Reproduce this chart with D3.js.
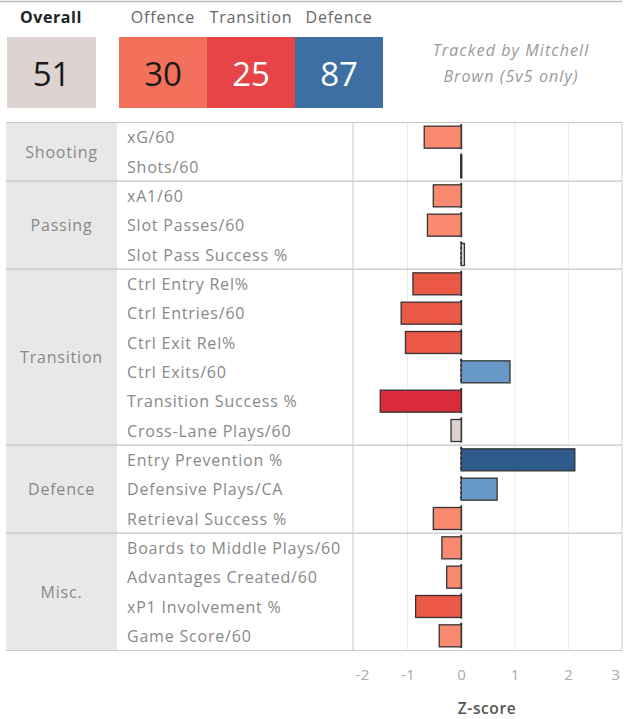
<!DOCTYPE html>
<html><head><meta charset="utf-8">
<script src="https://cdn.jsdelivr.net/npm/d3@7"></script>
<style>
html,body{margin:0;padding:0;background:#fff;}
svg{display:block;font-family:"Open Sans",sans-serif;}
</style></head>
<body><svg id="c" width="628" height="719"></svg>
<script>
// ---- data ----
const groups = ["Shooting","Passing","Transition","Defence","Misc."];
const groupSizes = [2,3,6,3,4];
const metrics = ["xG/60","Shots/60","xA1/60","Slot Passes/60","Slot Pass Success %",
  "Ctrl Entry Rel%","Ctrl Entries/60","Ctrl Exit Rel%","Ctrl Exits/60","Transition Success %","Cross-Lane Plays/60",
  "Entry Prevention %","Defensive Plays/CA","Retrieval Success %",
  "Boards to Middle Plays/60","Advantages Created/60","xP1 Involvement %","Game Score/60"];
const zscores = [-0.69,-0.01,-0.52,-0.63,0.06,
  -0.90,-1.12,-1.04,0.91,-1.51,-0.19,
  2.12,0.67,-0.52,
  -0.36,-0.27,-0.85,-0.41];
const summaryLabels = ["Offence","Transition","Defence"];
const summaryValues = [30,25,87];
const overallValue = 51;
const xTicks = [-2,-1,0,1,2,3];

// ---- layout ----
const svg = d3.select("#c");
const L = {left:6, labelX:117, plotL:353, plotR:622, top:122.5, bottom:650.5};
const x = d3.scaleLinear().domain([-2,3]).range([L.plotL+1, L.plotR]);
const y = d3.scaleBand().domain(metrics).range([L.top, L.bottom]).paddingInner(0.25).paddingOuter(0.125);
const rowH = (L.bottom-L.top)/metrics.length;
const color = d3.scaleThreshold().domain([-1.25,-0.75,-0.25,0.25,1.25])
  .range(["#d92b3a","#ec5846","#f98a70","#dcd3d0","#6798c7","#2e5b8b"]);
const LS = "0.8px";

// header
svg.append("line").attr("x1",0).attr("x2",622).attr("y1",1.5).attr("y2",1.5).attr("stroke","#bbb").attr("stroke-width",1.5);
svg.append("text").attr("x",51).attr("y",23).attr("text-anchor","middle").attr("font-size",16).attr("letter-spacing","0.6px").attr("font-weight",700).attr("fill","#222").text("Overall");
svg.append("rect").attr("x",7).attr("y",37).attr("width",89).attr("height",71).attr("fill","#ddd4d1");
svg.append("text").attr("x",51.5).attr("y",86).attr("text-anchor","middle").attr("font-size",33).attr("fill","#1a1a1a").text(overallValue);
const sumColors = ["#f3705a","#e64446","#3e6fa3"];
const sumText = ["#1a1a1a","#fff","#fff"];
const hx = d3.scaleBand().domain(summaryLabels).range([119,383]);
summaryLabels.forEach((s,i)=>{
  svg.append("rect").attr("x",hx(s)).attr("y",37).attr("width",hx.bandwidth()).attr("height",71).attr("fill",sumColors[i]);
  svg.append("text").attr("x",hx(s)+hx.bandwidth()/2).attr("y",86).attr("text-anchor","middle").attr("font-size",33).attr("fill",sumText[i]).text(summaryValues[i]);
  svg.append("text").attr("x",hx(s)+hx.bandwidth()/2).attr("y",23).attr("text-anchor","middle").attr("font-size",16).attr("letter-spacing",LS).attr("fill","#666").text(s);
});
svg.append("text").attr("x",511).attr("y",56).attr("text-anchor","middle").attr("font-size",16).attr("letter-spacing","1.1px").attr("font-style","italic").attr("fill","#999").text("Tracked by Mitchell");
svg.append("text").attr("x",511).attr("y",82).attr("text-anchor","middle").attr("font-size",16).attr("letter-spacing","1.1px").attr("font-style","italic").attr("fill","#999").text("Brown (5v5 only)");

// group column background
svg.append("rect").attr("x",L.left).attr("y",L.top).attr("width",L.labelX-L.left).attr("height",L.bottom-L.top).attr("fill","#e8e8e8");

// vertical gridlines
svg.selectAll(".vg").data(xTicks.filter(t=>t!==-2 && t!==3)).join("line")
  .attr("x1",d=>x(d)).attr("x2",d=>x(d)).attr("y1",L.top).attr("y2",L.bottom)
  .attr("stroke","#ececec").attr("stroke-width",1);
// plot borders
svg.append("line").attr("x1",L.plotL).attr("x2",L.plotL).attr("y1",L.top).attr("y2",L.bottom).attr("stroke","#c8c8c8");
svg.append("line").attr("x1",L.plotR).attr("x2",L.plotR).attr("y1",L.top).attr("y2",L.bottom).attr("stroke","#d0d0d0");

// group separators
let cum = 0;
const bounds = [L.top];
groupSizes.forEach(n=>{cum+=n; bounds.push(L.top+cum*rowH);});
svg.selectAll(".hs").data(bounds).join("line")
  .attr("x1",L.left).attr("x2",L.plotR).attr("y1",d=>d).attr("y2",d=>d)
  .attr("stroke","#c6c6c6").attr("stroke-width",1.2);

// group labels
groups.forEach((g,i)=>{
  svg.append("text").attr("x",(L.left+L.labelX)/2).attr("y",(bounds[i]+bounds[i+1])/2+6)
    .attr("text-anchor","middle").attr("font-size",16).attr("letter-spacing",LS).attr("fill","#888").text(g);
});
// metric labels
svg.selectAll(".ml").data(metrics).join("text")
  .attr("x",127).attr("y",d=>y(d)+y.bandwidth()/2+6)
  .attr("font-size",16).attr("letter-spacing",LS).attr("fill","#888").text(d=>d);

// zero ticks per row
svg.selectAll(".zt").data(metrics).join("line")
  .attr("x1",x(0)).attr("x2",x(0)).attr("y1",d=>y(d)-2).attr("y2",d=>y(d)+y.bandwidth()+1)
  .attr("stroke","#333").attr("stroke-width",2).attr("stroke-dasharray",(d,i)=>zscores[i]>0?"3,2":null);

// bars
svg.selectAll(".bar").data(metrics).join("rect")
  .attr("x",(d,i)=>x(Math.min(0,zscores[i])))
  .attr("y",d=>y(d))
  .attr("width",(d,i)=>Math.max(1,Math.abs(x(zscores[i])-x(0))))
  .attr("height",y.bandwidth())
  .attr("fill",(d,i)=>color(zscores[i]))
  .attr("stroke","#333").attr("stroke-width",1.3);

// x axis
const ax = svg.append("g").attr("transform",`translate(0,${L.bottom})`)
  .call(d3.axisBottom(x).tickValues(xTicks).tickSize(0).tickPadding(19).tickFormat(d=>String(d)));
ax.select(".domain").remove();
ax.selectAll("text").attr("font-size",15).attr("letter-spacing","0.5px").attr("fill","#aaa").attr("font-family","Open Sans, sans-serif");
ax.selectAll(".tick").filter(d=>d===-2).select("text").attr("text-anchor","start").attr("dx",1);
ax.selectAll(".tick").filter(d=>d===3).select("text").attr("text-anchor","end").attr("dx",-2);
svg.append("text").attr("x",487).attr("y",714).attr("text-anchor","middle").attr("font-size",15.5).attr("letter-spacing","0.6px").attr("font-weight",600).attr("fill","#555").text("Z-score");
</script></body></html>
